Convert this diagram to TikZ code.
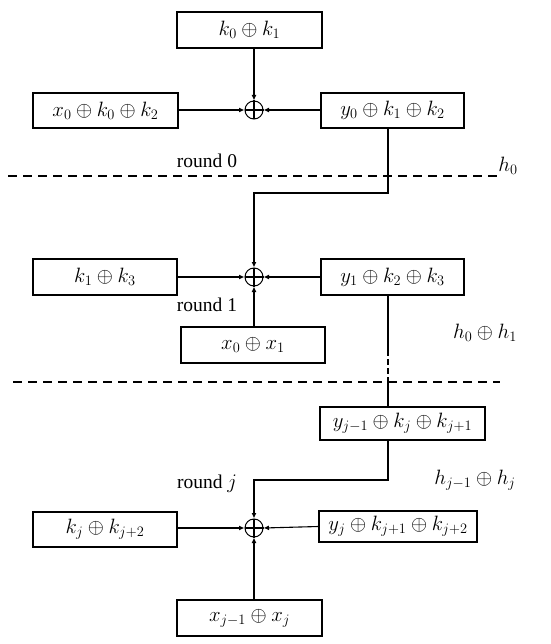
\documentclass[tikz,border=0pt]{standalone}
\usepackage{fontspec}
\setmainfont{Liberation Serif}
\usetikzlibrary{arrows.meta}
\begin{document}
\begin{tikzpicture}[x=1pt,y=-1pt,
  box/.style={draw,line width=1.3pt,inner sep=0pt,font=\fontsize{19.5}{22}\selectfont},
  xorc/.style={draw,circle,line width=1pt,minimum size=18pt,inner sep=0pt},
  conn/.style={line width=1.1pt},
  arr/.style={conn,-{Latex[length=5.5pt,width=5pt]}},
  sep/.style={line width=1.1pt,dash pattern=on 9pt off 6pt},
  lbl/.style={font=\fontsize{19.5}{22}\selectfont,inner sep=0pt}]
\useasboundingbox (0,0) rectangle (550,644);
\fill[white] (0,0) rectangle (550,644);
% round 0
\node[box,minimum width=145pt,minimum height=36pt] (top) at (249.5,30) {$k_0\oplus k_1$};
\node[box,minimum width=145pt,minimum height=35pt] (L0) at (105.5,110.5) {$x_0\oplus k_0\oplus k_2$};
\node[box,minimum width=143pt,minimum height=35pt] (R0) at (392.5,110.5) {$y_0\oplus k_1\oplus k_2$};
\node[xorc] (X0) at (254,110) {};
\draw[conn] (X0.north)--(X0.south) (X0.west)--(X0.east);
\draw[arr] (top.south -| X0) -- (X0.north);
\draw[arr] (L0.east |- X0) -- (X0.west);
\draw[arr] (R0.west |- X0) -- (X0.east);
\node[lbl] (r0) at (207,161) {round 0};
\node[lbl] (h0) at (508,166) {$h_0$};
\coordinate (s0a) at (8,176);
\coordinate (s0b) at (497,176);
\draw[sep] (s0a) -- (s0b);
% round 1
\node[box,minimum width=144pt,minimum height=36pt] (L1) at (105,277) {$k_1\oplus k_3$};
\node[box,minimum width=143pt,minimum height=36pt] (R1) at (392.5,277) {$y_1\oplus k_2\oplus k_3$};
\node[box,minimum width=144pt,minimum height=36pt] (B1) at (253,345) {$x_0\oplus x_1$};
\node[xorc] (X1) at (254,277) {};
\draw[conn] (X1.north)--(X1.south) (X1.west)--(X1.east);
\coordinate (c0) at (388,128);
\coordinate (c0b) at (388,193);
\draw[arr] (c0) -- (c0b) -| (X1.north);
\draw[arr] (L1.east) -- (X1.west);
\draw[arr] (R1.west) -- (X1.east);
\draw[arr] (B1.north -| X1) -- (X1.south);
\node[lbl] (r1) at (207,305) {round 1};
\node[lbl] (h01) at (485,333) {$h_0\oplus h_1$};
\coordinate (s1a) at (13,382);
\coordinate (s1b) at (500,382);
\draw[sep] (s1a) -- (s1b);
% round j
\node[box,minimum width=165pt,minimum height=33pt] (M) at (402.5,423.5) {$y_{j-1}\oplus k_j\oplus k_{j+1}$};
\coordinate (c1) at (388,295);
\coordinate (c1a) at (388,350);
\coordinate (c1b) at (388,377);
\draw[conn] (c1) -- (c1a);
\draw[conn,dash pattern=on 6pt off 3pt] (c1a) -- (c1b);
\draw[conn] (c1b) -- (M.north -| c1b);
\node[box,minimum width=144pt,minimum height=35pt] (Lj) at (105,529.5) {$k_j\oplus k_{j+2}$};
\node[box,minimum width=158pt,minimum height=31pt] (Rj) at (398,526.5) {$y_j\oplus k_{j+1}\oplus k_{j+2}$};
\node[box,minimum width=145pt,minimum height=36pt] (Bj) at (249.5,618) {$x_{j-1}\oplus x_j$};
\node[xorc] (Xj) at (254,528) {};
\draw[conn] (Xj.north)--(Xj.south) (Xj.west)--(Xj.east);
\coordinate (c2) at (388,440);
\coordinate (c2b) at (388,480);
\draw[arr] (c2) -- (c2b) -| (Xj.north);
\draw[arr] (Lj.east |- Xj) -- (Xj.west);
\draw[arr] (Rj.west) -- (Xj.east);
\draw[arr] (Bj.north -| Xj) -- (Xj.south);
\node[lbl] (rj) at (207,484) {round $j$};
\node[lbl] (hj) at (475,480) {$h_{j-1}\oplus h_j$};
\end{tikzpicture}
\end{document}
